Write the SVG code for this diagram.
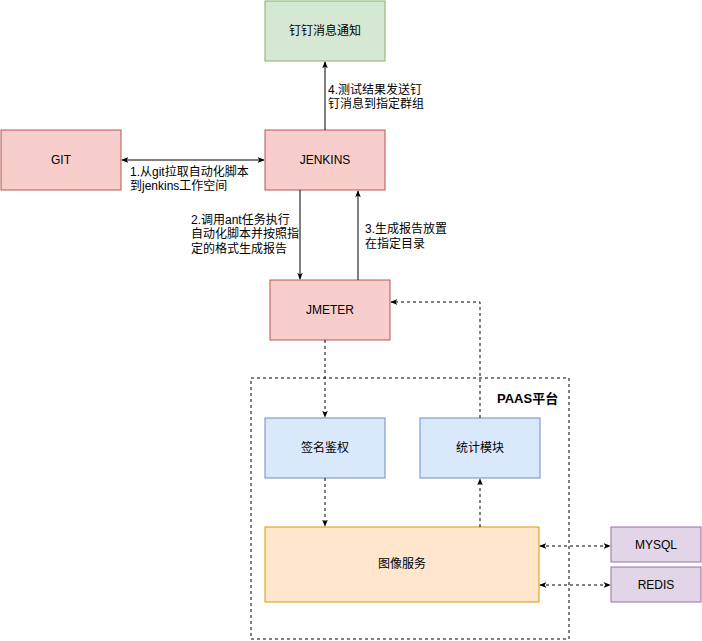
<svg xmlns="http://www.w3.org/2000/svg" width="702" height="641" viewBox="0 0 702 641">
<style>
text{font-family:"Liberation Sans","Noto Sans CJK SC",sans-serif;font-size:12px;fill:#000}
.c{text-anchor:middle;dominant-baseline:central}
.red{fill:#f8cecc;stroke:#b85450}
.grn{fill:#d5e8d4;stroke:#82b366}
.blu{fill:#dae8fc;stroke:#6c8ebf}
.org{fill:#ffe6cc;stroke:#d79b00}
.pur{fill:#e1d5e7;stroke:#9673a6}
.l{fill:none;stroke:#000;stroke-width:1}
.d{stroke-dasharray:3 3}
</style>
<defs>
<marker id="a" viewBox="0 0 10 10" refX="9" refY="5" markerWidth="7" markerHeight="7" orient="auto-start-reverse"><path d="M0,1 L10,5 L0,9 L2.5,5 Z" fill="#000"/></marker>
</defs>
<rect x="251" y="378" width="318" height="261" fill="none" stroke="#000" stroke-dasharray="3 3"/>
<text x="497" y="403" style="font-weight:bold;font-size:13px">PAAS平台</text>
<g id="n-ding"><rect class="grn" x="265" y="1" width="120" height="60"/><text class="c" x="325" y="31">钉钉消息通知</text></g>
<g id="n-git"><rect class="red" x="1" y="130" width="120" height="60"/><text class="c" x="61" y="160">GIT</text></g>
<g id="n-jenkins"><rect class="red" x="265" y="130" width="120" height="60"/><text class="c" x="325" y="160">JENKINS</text></g>
<g id="n-jmeter"><rect class="red" x="270" y="280" width="120" height="60"/><text class="c" x="330" y="310">JMETER</text></g>
<g id="n-sign"><rect class="blu" x="265" y="418" width="120" height="60"/><text class="c" x="325" y="448">签名鉴权</text></g>
<g id="n-stat"><rect class="blu" x="420" y="418" width="120" height="60"/><text class="c" x="480" y="448">统计模块</text></g>
<g id="n-img"><rect class="org" x="265" y="527" width="274" height="75"/><text class="c" x="402" y="564">图像服务</text></g>
<g id="n-mysql"><rect class="pur" x="611" y="527" width="90" height="35"/><text class="c" x="656" y="545">MYSQL</text></g>
<g id="n-redis"><rect class="pur" x="611" y="567" width="90" height="35"/><text class="c" x="656" y="585">REDIS</text></g>
<g id="connectors">
<path class="l" d="M325,130 V62" marker-end="url(#a)"/>
<path class="l" d="M122,160 H264" marker-start="url(#a)" marker-end="url(#a)"/>
<path class="l" d="M300,190 V279" marker-end="url(#a)"/>
<path class="l" d="M358,280 V191" marker-end="url(#a)"/>
<path class="l d" d="M325,340 V417" marker-end="url(#a)"/>
<path class="l d" d="M325,478 V526" marker-end="url(#a)"/>
<path class="l d" d="M480,527 V479" marker-end="url(#a)"/>
<path class="l d" d="M480,418 V302 H391" marker-end="url(#a)"/>
<path class="l d" d="M540,546 H610" marker-start="url(#a)" marker-end="url(#a)"/>
<path class="l d" d="M540,585 H610" marker-start="url(#a)" marker-end="url(#a)"/>
</g>
<g id="labels">
<text x="328" y="94">4.测试结果发送钉</text>
<text x="328" y="108">钉消息到指定群组</text>
<text x="130" y="176">1.从git拉取自动化脚本</text>
<text x="130" y="190">到jenkins工作空间</text>
<text x="191" y="224">2.调用ant任务执行</text>
<text x="191" y="238">自动化脚本并按照指</text>
<text x="191" y="253">定的格式生成报告</text>
<text x="365" y="233">3.生成报告放置</text>
<text x="365" y="248">在指定目录</text>
</g>
</svg>
